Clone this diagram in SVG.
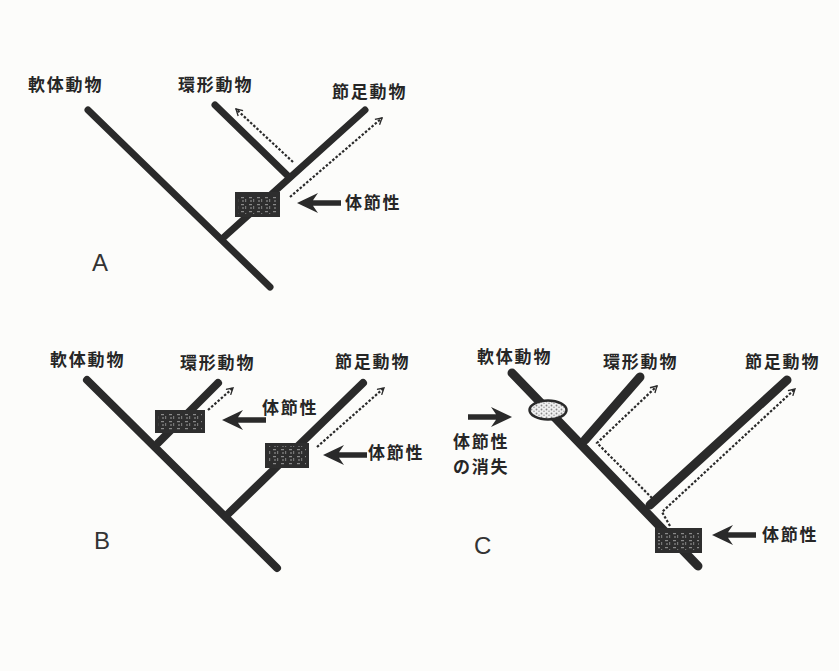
<svg xmlns="http://www.w3.org/2000/svg" width="839" height="671" viewBox="0 0 839 671">
  <style>
    .lbl { font-family: "Noto Sans CJK JP", "Noto Sans", sans-serif; font-weight: 700; font-size: 17px; fill: #262626; letter-spacing: 1.8px; }
    .panel { font-family: "Liberation Sans", Arial, sans-serif; font-size: 24px; fill: #333; }
    .branch { stroke: #2a2a2a; stroke-linecap: round; fill: none; }
    .dot { stroke: #2a2a2a; stroke-width: 2.2; stroke-dasharray: 2.5 1.8; fill: none; marker-end: url(#chev); }
    .box { fill: #2e2e2e; }
    .boxtex { fill: url(#grain); }
  </style>
  <defs>
    <marker id="chev" viewBox="0 0 10 10" refX="8" refY="5" markerWidth="9" markerHeight="9" orient="auto" markerUnits="userSpaceOnUse">
      <path d="M1,1 L8,5 L1,9" fill="none" stroke="#2a2a2a" stroke-width="1.5"/>
    </marker>
    <!-- thick arrow pointing left, tip at origin -->
    <path id="bigArrow" d="M0,0 L21,-10 L16,-2.8 L44,-2.8 L44,2.8 L16,2.8 L21,10 Z" fill="#2a2a2a"/>
    <pattern id="grain" width="8" height="7" patternUnits="userSpaceOnUse">
      <rect x="1" y="1" width="3" height="1.2" fill="#8a8a8a"/>
      <rect x="5" y="3" width="1.2" height="3" fill="#777"/>
      <rect x="2" y="4.5" width="2" height="1" fill="#999"/>
    </pattern>
    <pattern id="speck" width="5" height="4" patternUnits="userSpaceOnUse">
      <rect width="5" height="4" fill="#efefef"/>
      <circle cx="1.5" cy="1.5" r="0.9" fill="#888"/>
      <circle cx="4" cy="3.2" r="0.8" fill="#999"/>
    </pattern>
  </defs>

  <rect width="839" height="671" fill="#fcfcfa"/>

  <!-- tree branches -->
  <g id="connectors">
    <!-- panel A -->
    <line class="branch" stroke-width="7" x1="88" y1="110" x2="270" y2="287"/>
    <line class="branch" stroke-width="7" x1="365" y1="110" x2="223" y2="238"/>
    <line class="branch" stroke-width="7" x1="215" y1="105" x2="288" y2="176"/>
    <path class="dot" d="M290,197 L382,118"/>
    <path class="dot" d="M293,162 L236,109"/>

    <!-- panel B -->
    <line class="branch" stroke-width="8" x1="87" y1="380" x2="277" y2="568"/>
    <line class="branch" stroke-width="8" x1="218" y1="383" x2="158" y2="443"/>
    <line class="branch" stroke-width="8" x1="363" y1="383" x2="226" y2="516"/>
    <path class="dot" d="M208,410 L233,388"/>
    <path class="dot" d="M317,447 L384,388"/>

    <!-- panel C -->
    <line class="branch" stroke-width="9" x1="512" y1="373" x2="698" y2="566"/>
    <line class="branch" stroke-width="9" x1="640" y1="377" x2="585" y2="440"/>
    <line class="branch" stroke-width="9" x1="787" y1="380" x2="650" y2="505"/>
    <path class="dot" d="M652,498 L597,443 L657,386"/>
    <path class="dot" d="M670,526 L662,512 L795,389"/>
  </g>

  <!-- panel A nodes -->
  <g id="a-mollusca"><text class="lbl" x="28" y="91">軟体動物</text></g>
  <g id="a-annelida"><text class="lbl" x="178" y="91">環形動物</text></g>
  <g id="a-arthropoda"><text class="lbl" x="332" y="98">節足動物</text></g>
  <g id="a-segment-box">
    <rect class="box" x="235" y="192" width="45" height="25"/>
    <rect class="boxtex" x="238" y="195" width="39" height="19"/>
  </g>
  <g id="a-segment-arrow">
    <use href="#bigArrow" x="297" y="203"/>
    <text class="lbl" x="345" y="209">体節性</text>
  </g>
  <g id="a-title"><text class="panel" x="92" y="271">A</text></g>

  <!-- panel B nodes -->
  <g id="b-mollusca"><text class="lbl" x="50" y="366">軟体動物</text></g>
  <g id="b-annelida"><text class="lbl" x="180" y="369">環形動物</text></g>
  <g id="b-arthropoda"><text class="lbl" x="335" y="368">節足動物</text></g>
  <g id="b-annelid-box">
    <rect class="box" x="155" y="410" width="50" height="23"/>
    <rect class="boxtex" x="158" y="413" width="44" height="17"/>
  </g>
  <g id="b-annelid-arrow">
    <use href="#bigArrow" x="222" y="420"/>
    <text class="lbl" x="262" y="414">体節性</text>
  </g>
  <g id="b-arthropod-box">
    <rect class="box" x="265" y="443" width="44" height="25"/>
    <rect class="boxtex" x="268" y="446" width="38" height="19"/>
  </g>
  <g id="b-arthropod-arrow">
    <use href="#bigArrow" x="323" y="455"/>
    <text class="lbl" x="368" y="459">体節性</text>
  </g>
  <g id="b-title"><text class="panel" x="94" y="549">B</text></g>

  <!-- panel C nodes -->
  <g id="c-mollusca"><text class="lbl" x="477" y="363">軟体動物</text></g>
  <g id="c-annelida"><text class="lbl" x="603" y="368">環形動物</text></g>
  <g id="c-arthropoda"><text class="lbl" x="745" y="368">節足動物</text></g>
  <g id="c-loss">
    <ellipse cx="548" cy="410" rx="18.5" ry="9.5" fill="url(#speck)" stroke="#2a2a2a" stroke-width="2.5"/>
  </g>
  <g id="c-loss-arrow">
    <use href="#bigArrow" transform="translate(512,417) scale(-1,1)"/>
    <text class="lbl" x="453" y="448">体節性</text>
    <text class="lbl" x="453" y="473">の消失</text>
  </g>
  <g id="c-segment-box">
    <rect class="box" x="655" y="528" width="47" height="25"/>
    <rect class="boxtex" x="658" y="531" width="41" height="19"/>
  </g>
  <g id="c-segment-arrow">
    <use href="#bigArrow" x="712" y="535"/>
    <text class="lbl" x="762" y="541">体節性</text>
  </g>
  <g id="c-title"><text class="panel" x="474" y="554">C</text></g>
</svg>
